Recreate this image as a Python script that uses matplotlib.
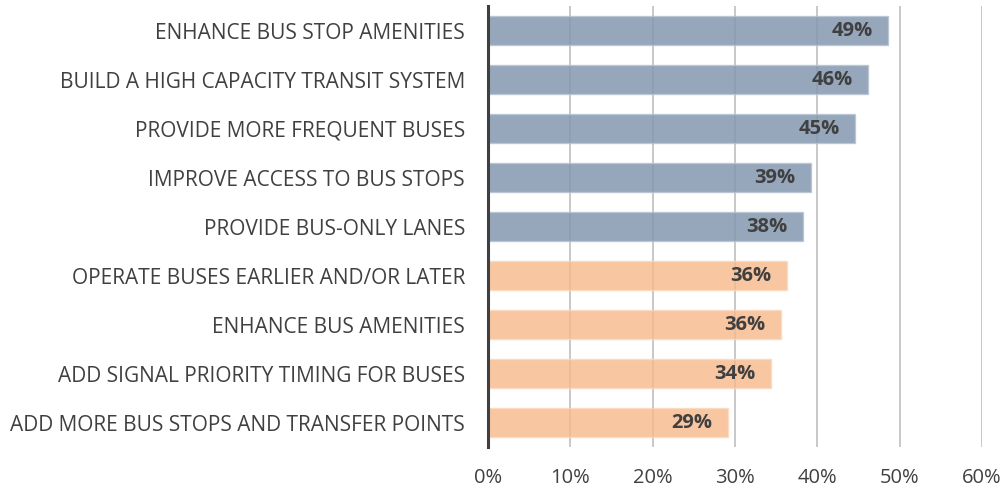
import matplotlib
matplotlib.use("Agg")
import matplotlib.pyplot as plt
from matplotlib.ticker import PercentFormatter

categories = [
    "ENHANCE BUS STOP AMENITIES",
    "BUILD A HIGH CAPACITY TRANSIT SYSTEM",
    "PROVIDE MORE FREQUENT BUSES",
    "IMPROVE ACCESS TO BUS STOPS",
    "PROVIDE BUS-ONLY LANES",
    "OPERATE BUSES EARLIER AND/OR LATER",
    "ENHANCE BUS AMENITIES",
    "ADD SIGNAL PRIORITY TIMING FOR BUSES",
    "ADD MORE BUS STOPS AND TRANSFER POINTS",
]
values = [48.6, 46.2, 44.6, 39.2, 38.3, 36.3, 35.6, 34.4, 29.2]
groups = ["top", "top", "top", "top", "top", "other", "other", "other", "other"]
x_ticks = [0, 10, 20, 30, 40, 50, 60]

plt.rcParams["font.family"] = ["Open Sans", "DejaVu Sans"]
text_color = "#404040"
fills = {"top": ("#8497B0", 0.85), "other": ("#F7B98A", 0.8)}
edges = {"top": "#B8C4D3", "other": "#FBD8BD"}

fig = plt.figure(figsize=(10.07, 4.91), dpi=100)
ax = fig.add_axes([0.4846, 0.0896, 0.4905, 0.898])

ypos = list(range(len(categories)))[::-1]
for y, v, g in zip(ypos, values, groups):
    c, a = fills[g]
    ax.barh(y, v, height=0.6, color=c, alpha=a, edgecolor=edges[g],
            linewidth=1.0, zorder=2)
    ax.text(v - 1.9, y, f"{round(v):d}%", ha="right", va="center",
            fontsize=14.5, fontweight="bold", color=text_color, zorder=3)

ax.set_xlim(0, 60)
ax.set_ylim(-0.5, len(categories) - 0.5)
ax.set_xticks(x_ticks)
ax.xaxis.set_major_formatter(PercentFormatter(decimals=0))
ax.set_yticks(ypos)
ax.set_yticklabels(categories)
ax.tick_params(axis="y", length=0, pad=16.5, labelsize=15, labelcolor=text_color)
ax.tick_params(axis="x", length=0, pad=15, labelsize=14.5, labelcolor=text_color)

ax.grid(axis="x", color="#BFBFBF", linewidth=1.2, zorder=1)
ax.set_axisbelow(True)
for s in ["top", "right", "bottom"]:
    ax.spines[s].set_visible(False)
ax.spines["left"].set_color(text_color)
ax.spines["left"].set_linewidth(2.2)
ax.spines["left"].set_zorder(4)

fig.savefig("out.png", dpi=100)
